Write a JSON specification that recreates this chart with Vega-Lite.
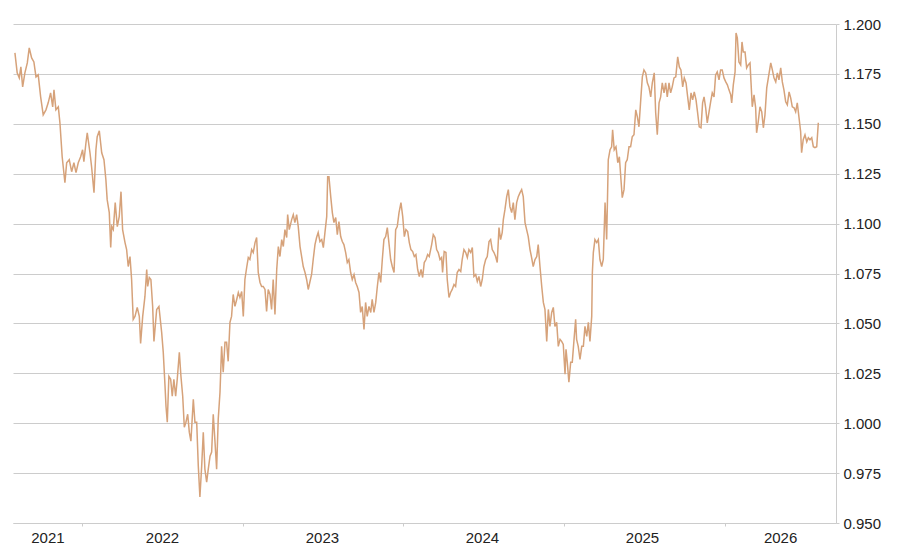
{
  "$schema": "https://vega.github.io/schema/vega-lite/v6.json",
  "width": 823,
  "height": 499,
  "autosize": "none",
  "padding": {"left": 13, "top": 24, "right": 64, "bottom": 34},
  "background": "white",
  "data": {
    "values": [
      {"t": 2021.583, "v": 1.1855}, {"t": 2021.597, "v": 1.1755}, {"t": 2021.610, "v": 1.173}, {"t": 2021.620, "v": 1.1785},
      {"t": 2021.631, "v": 1.1685}, {"t": 2021.645, "v": 1.1755}, {"t": 2021.660, "v": 1.1805}, {"t": 2021.672, "v": 1.188},
      {"t": 2021.687, "v": 1.183}, {"t": 2021.701, "v": 1.181}, {"t": 2021.714, "v": 1.1735}, {"t": 2021.728, "v": 1.1745},
      {"t": 2021.743, "v": 1.1635}, {"t": 2021.759, "v": 1.1545}, {"t": 2021.776, "v": 1.157}, {"t": 2021.790, "v": 1.1605},
      {"t": 2021.805, "v": 1.1655}, {"t": 2021.818, "v": 1.1585}, {"t": 2021.826, "v": 1.167}, {"t": 2021.838, "v": 1.157},
      {"t": 2021.853, "v": 1.1585}, {"t": 2021.863, "v": 1.1505}, {"t": 2021.877, "v": 1.1335}, {"t": 2021.894, "v": 1.1205},
      {"t": 2021.905, "v": 1.1305}, {"t": 2021.921, "v": 1.132}, {"t": 2021.936, "v": 1.126}, {"t": 2021.950, "v": 1.1305},
      {"t": 2021.963, "v": 1.1255}, {"t": 2021.977, "v": 1.1305}, {"t": 2021.992, "v": 1.1335}, {"t": 2022.004, "v": 1.137},
      {"t": 2022.012, "v": 1.131}, {"t": 2022.025, "v": 1.1405}, {"t": 2022.033, "v": 1.1455}, {"t": 2022.050, "v": 1.1355},
      {"t": 2022.060, "v": 1.1285}, {"t": 2022.075, "v": 1.1155}, {"t": 2022.087, "v": 1.137}, {"t": 2022.095, "v": 1.1435},
      {"t": 2022.108, "v": 1.1465}, {"t": 2022.123, "v": 1.1355}, {"t": 2022.137, "v": 1.132}, {"t": 2022.149, "v": 1.122},
      {"t": 2022.157, "v": 1.112}, {"t": 2022.170, "v": 1.1055}, {"t": 2022.179, "v": 1.088}, {"t": 2022.185, "v": 1.0985},
      {"t": 2022.195, "v": 1.097}, {"t": 2022.207, "v": 1.1105}, {"t": 2022.220, "v": 1.0985}, {"t": 2022.232, "v": 1.1035},
      {"t": 2022.243, "v": 1.116}, {"t": 2022.253, "v": 1.097}, {"t": 2022.268, "v": 1.0905}, {"t": 2022.278, "v": 1.087},
      {"t": 2022.288, "v": 1.0785}, {"t": 2022.299, "v": 1.0835}, {"t": 2022.309, "v": 1.072}, {"t": 2022.319, "v": 1.052},
      {"t": 2022.330, "v": 1.0535}, {"t": 2022.344, "v": 1.058}, {"t": 2022.357, "v": 1.0535}, {"t": 2022.365, "v": 1.04},
      {"t": 2022.378, "v": 1.0535}, {"t": 2022.392, "v": 1.0635}, {"t": 2022.403, "v": 1.077}, {"t": 2022.409, "v": 1.0685},
      {"t": 2022.419, "v": 1.073}, {"t": 2022.429, "v": 1.072}, {"t": 2022.440, "v": 1.0585}, {"t": 2022.448, "v": 1.041},
      {"t": 2022.465, "v": 1.057}, {"t": 2022.479, "v": 1.0585}, {"t": 2022.496, "v": 1.0455}, {"t": 2022.506, "v": 1.0355},
      {"t": 2022.517, "v": 1.0185}, {"t": 2022.523, "v": 1.0085}, {"t": 2022.531, "v": 1.0005}, {"t": 2022.541, "v": 1.0235},
      {"t": 2022.552, "v": 1.022}, {"t": 2022.562, "v": 1.0135}, {"t": 2022.572, "v": 1.022}, {"t": 2022.583, "v": 1.0135},
      {"t": 2022.593, "v": 1.022}, {"t": 2022.606, "v": 1.0355}, {"t": 2022.616, "v": 1.0235}, {"t": 2022.627, "v": 1.0135},
      {"t": 2022.637, "v": 0.998}, {"t": 2022.647, "v": 1.0005}, {"t": 2022.658, "v": 1.0045}, {"t": 2022.668, "v": 0.9955},
      {"t": 2022.678, "v": 0.991}, {"t": 2022.693, "v": 1.012}, {"t": 2022.703, "v": 1.0005}, {"t": 2022.714, "v": 1.0005},
      {"t": 2022.724, "v": 0.9785}, {"t": 2022.734, "v": 0.963}, {"t": 2022.745, "v": 0.9785}, {"t": 2022.755, "v": 0.9955},
      {"t": 2022.765, "v": 0.977}, {"t": 2022.776, "v": 0.9705}, {"t": 2022.786, "v": 0.977}, {"t": 2022.797, "v": 0.9835},
      {"t": 2022.807, "v": 0.9855}, {"t": 2022.817, "v": 1.0045}, {"t": 2022.828, "v": 0.9905}, {"t": 2022.838, "v": 0.977},
      {"t": 2022.848, "v": 1.002}, {"t": 2022.859, "v": 1.0155}, {"t": 2022.869, "v": 1.0385}, {"t": 2022.879, "v": 1.0255},
      {"t": 2022.890, "v": 1.0405}, {"t": 2022.900, "v": 1.0405}, {"t": 2022.910, "v": 1.031}, {"t": 2022.921, "v": 1.0505},
      {"t": 2022.931, "v": 1.0535}, {"t": 2022.941, "v": 1.0645}, {"t": 2022.952, "v": 1.0585}, {"t": 2022.963, "v": 1.062},
      {"t": 2022.973, "v": 1.0655}, {"t": 2022.983, "v": 1.063}, {"t": 2022.994, "v": 1.066}, {"t": 2023.004, "v": 1.0535},
      {"t": 2023.014, "v": 1.072}, {"t": 2023.025, "v": 1.078}, {"t": 2023.035, "v": 1.083}, {"t": 2023.045, "v": 1.082},
      {"t": 2023.056, "v": 1.087}, {"t": 2023.066, "v": 1.0855}, {"t": 2023.077, "v": 1.0905}, {"t": 2023.087, "v": 1.093},
      {"t": 2023.097, "v": 1.0755}, {"t": 2023.108, "v": 1.0705}, {"t": 2023.118, "v": 1.0685}, {"t": 2023.128, "v": 1.0685},
      {"t": 2023.139, "v": 1.067}, {"t": 2023.149, "v": 1.056}, {"t": 2023.159, "v": 1.067}, {"t": 2023.170, "v": 1.0645},
      {"t": 2023.180, "v": 1.057}, {"t": 2023.190, "v": 1.072}, {"t": 2023.201, "v": 1.0545}, {"t": 2023.212, "v": 1.077},
      {"t": 2023.222, "v": 1.0885}, {"t": 2023.232, "v": 1.0835}, {"t": 2023.243, "v": 1.092}, {"t": 2023.253, "v": 1.0885},
      {"t": 2023.263, "v": 1.097}, {"t": 2023.274, "v": 1.093}, {"t": 2023.280, "v": 1.1045}, {"t": 2023.290, "v": 1.097},
      {"t": 2023.305, "v": 1.102}, {"t": 2023.315, "v": 1.1045}, {"t": 2023.325, "v": 1.1005}, {"t": 2023.336, "v": 1.1045},
      {"t": 2023.346, "v": 1.0985}, {"t": 2023.357, "v": 1.0885}, {"t": 2023.367, "v": 1.0835}, {"t": 2023.377, "v": 1.0785},
      {"t": 2023.388, "v": 1.0755}, {"t": 2023.398, "v": 1.072}, {"t": 2023.408, "v": 1.067}, {"t": 2023.419, "v": 1.071},
      {"t": 2023.429, "v": 1.0745}, {"t": 2023.439, "v": 1.082}, {"t": 2023.450, "v": 1.0895}, {"t": 2023.460, "v": 1.093},
      {"t": 2023.470, "v": 1.0955}, {"t": 2023.481, "v": 1.091}, {"t": 2023.492, "v": 1.092}, {"t": 2023.502, "v": 1.088},
      {"t": 2023.512, "v": 1.0955}, {"t": 2023.523, "v": 1.1035}, {"t": 2023.529, "v": 1.1235}, {"t": 2023.537, "v": 1.1235},
      {"t": 2023.548, "v": 1.1135}, {"t": 2023.558, "v": 1.1055}, {"t": 2023.568, "v": 1.1005}, {"t": 2023.579, "v": 1.103},
      {"t": 2023.589, "v": 1.0945}, {"t": 2023.599, "v": 1.101}, {"t": 2023.610, "v": 1.0935}, {"t": 2023.620, "v": 1.091},
      {"t": 2023.630, "v": 1.0895}, {"t": 2023.641, "v": 1.0855}, {"t": 2023.651, "v": 1.0805}, {"t": 2023.661, "v": 1.082},
      {"t": 2023.672, "v": 1.0755}, {"t": 2023.682, "v": 1.072}, {"t": 2023.693, "v": 1.0745}, {"t": 2023.703, "v": 1.0705},
      {"t": 2023.713, "v": 1.0685}, {"t": 2023.724, "v": 1.0655}, {"t": 2023.734, "v": 1.0555}, {"t": 2023.744, "v": 1.0585},
      {"t": 2023.755, "v": 1.047}, {"t": 2023.765, "v": 1.0605}, {"t": 2023.775, "v": 1.0535}, {"t": 2023.786, "v": 1.0585},
      {"t": 2023.797, "v": 1.0555}, {"t": 2023.806, "v": 1.062}, {"t": 2023.817, "v": 1.0555}, {"t": 2023.828, "v": 1.0605},
      {"t": 2023.838, "v": 1.0685}, {"t": 2023.848, "v": 1.0755}, {"t": 2023.859, "v": 1.0705}, {"t": 2023.869, "v": 1.082},
      {"t": 2023.879, "v": 1.092}, {"t": 2023.890, "v": 1.0935}, {"t": 2023.900, "v": 1.098}, {"t": 2023.910, "v": 1.0905},
      {"t": 2023.921, "v": 1.082}, {"t": 2023.931, "v": 1.0785}, {"t": 2023.942, "v": 1.0755}, {"t": 2023.952, "v": 1.097},
      {"t": 2023.962, "v": 1.0985}, {"t": 2023.973, "v": 1.1055}, {"t": 2023.985, "v": 1.1105}, {"t": 2023.996, "v": 1.1035},
      {"t": 2024.006, "v": 1.0935}, {"t": 2024.016, "v": 1.097}, {"t": 2024.027, "v": 1.096}, {"t": 2024.037, "v": 1.0905},
      {"t": 2024.047, "v": 1.087}, {"t": 2024.058, "v": 1.086}, {"t": 2024.068, "v": 1.0835}, {"t": 2024.078, "v": 1.0845},
      {"t": 2024.089, "v": 1.077}, {"t": 2024.099, "v": 1.0735}, {"t": 2024.110, "v": 1.077}, {"t": 2024.120, "v": 1.073},
      {"t": 2024.130, "v": 1.0805}, {"t": 2024.141, "v": 1.082}, {"t": 2024.151, "v": 1.0845}, {"t": 2024.161, "v": 1.0835},
      {"t": 2024.176, "v": 1.0895}, {"t": 2024.186, "v": 1.0945}, {"t": 2024.197, "v": 1.093}, {"t": 2024.207, "v": 1.087},
      {"t": 2024.217, "v": 1.0855}, {"t": 2024.228, "v": 1.082}, {"t": 2024.238, "v": 1.083}, {"t": 2024.244, "v": 1.0755},
      {"t": 2024.254, "v": 1.086}, {"t": 2024.265, "v": 1.0855}, {"t": 2024.273, "v": 1.072}, {"t": 2024.284, "v": 1.063},
      {"t": 2024.294, "v": 1.0655}, {"t": 2024.304, "v": 1.067}, {"t": 2024.315, "v": 1.0695}, {"t": 2024.325, "v": 1.0685},
      {"t": 2024.335, "v": 1.0755}, {"t": 2024.346, "v": 1.077}, {"t": 2024.357, "v": 1.076}, {"t": 2024.366, "v": 1.082},
      {"t": 2024.377, "v": 1.087}, {"t": 2024.388, "v": 1.0855}, {"t": 2024.398, "v": 1.083}, {"t": 2024.408, "v": 1.087},
      {"t": 2024.419, "v": 1.0855}, {"t": 2024.429, "v": 1.088}, {"t": 2024.439, "v": 1.0735}, {"t": 2024.450, "v": 1.0745},
      {"t": 2024.460, "v": 1.071}, {"t": 2024.470, "v": 1.0735}, {"t": 2024.481, "v": 1.0685}, {"t": 2024.491, "v": 1.072},
      {"t": 2024.501, "v": 1.0785}, {"t": 2024.512, "v": 1.082}, {"t": 2024.522, "v": 1.0835}, {"t": 2024.533, "v": 1.091},
      {"t": 2024.543, "v": 1.092}, {"t": 2024.553, "v": 1.087}, {"t": 2024.564, "v": 1.0855}, {"t": 2024.574, "v": 1.0835},
      {"t": 2024.584, "v": 1.0805}, {"t": 2024.595, "v": 1.098}, {"t": 2024.605, "v": 1.092}, {"t": 2024.615, "v": 1.0955},
      {"t": 2024.622, "v": 1.102}, {"t": 2024.632, "v": 1.107}, {"t": 2024.643, "v": 1.1135}, {"t": 2024.653, "v": 1.117},
      {"t": 2024.663, "v": 1.1085}, {"t": 2024.674, "v": 1.1055}, {"t": 2024.684, "v": 1.1105}, {"t": 2024.694, "v": 1.102},
      {"t": 2024.705, "v": 1.1105}, {"t": 2024.715, "v": 1.1135}, {"t": 2024.726, "v": 1.1155}, {"t": 2024.736, "v": 1.117},
      {"t": 2024.746, "v": 1.1135}, {"t": 2024.757, "v": 1.1005}, {"t": 2024.767, "v": 1.097}, {"t": 2024.777, "v": 1.0935},
      {"t": 2024.788, "v": 1.087}, {"t": 2024.798, "v": 1.083}, {"t": 2024.808, "v": 1.0785}, {"t": 2024.819, "v": 1.082},
      {"t": 2024.830, "v": 1.0835}, {"t": 2024.839, "v": 1.0895}, {"t": 2024.850, "v": 1.0785}, {"t": 2024.861, "v": 1.0685},
      {"t": 2024.871, "v": 1.0605}, {"t": 2024.881, "v": 1.057}, {"t": 2024.892, "v": 1.041}, {"t": 2024.902, "v": 1.057},
      {"t": 2024.912, "v": 1.0485}, {"t": 2024.923, "v": 1.0555}, {"t": 2024.933, "v": 1.058}, {"t": 2024.943, "v": 1.0485},
      {"t": 2024.954, "v": 1.0505}, {"t": 2024.964, "v": 1.0385}, {"t": 2024.975, "v": 1.042}, {"t": 2024.985, "v": 1.041},
      {"t": 2024.995, "v": 1.0395}, {"t": 2025.006, "v": 1.0245}, {"t": 2025.012, "v": 1.037}, {"t": 2025.020, "v": 1.0305},
      {"t": 2025.030, "v": 1.0205}, {"t": 2025.041, "v": 1.0305}, {"t": 2025.051, "v": 1.0305}, {"t": 2025.062, "v": 1.042},
      {"t": 2025.072, "v": 1.052}, {"t": 2025.078, "v": 1.042}, {"t": 2025.088, "v": 1.0385}, {"t": 2025.099, "v": 1.032},
      {"t": 2025.110, "v": 1.0385}, {"t": 2025.120, "v": 1.0385}, {"t": 2025.130, "v": 1.0485}, {"t": 2025.141, "v": 1.0435},
      {"t": 2025.151, "v": 1.0505}, {"t": 2025.161, "v": 1.041}, {"t": 2025.172, "v": 1.0535}, {"t": 2025.176, "v": 1.0755},
      {"t": 2025.182, "v": 1.0855}, {"t": 2025.192, "v": 1.092}, {"t": 2025.203, "v": 1.0905}, {"t": 2025.213, "v": 1.092},
      {"t": 2025.223, "v": 1.082}, {"t": 2025.234, "v": 1.0785}, {"t": 2025.244, "v": 1.082}, {"t": 2025.255, "v": 1.1105},
      {"t": 2025.265, "v": 1.092}, {"t": 2025.275, "v": 1.132}, {"t": 2025.286, "v": 1.137}, {"t": 2025.296, "v": 1.1385},
      {"t": 2025.302, "v": 1.147}, {"t": 2025.312, "v": 1.137}, {"t": 2025.323, "v": 1.1385}, {"t": 2025.334, "v": 1.1305},
      {"t": 2025.344, "v": 1.1335}, {"t": 2025.354, "v": 1.122}, {"t": 2025.362, "v": 1.113}, {"t": 2025.373, "v": 1.117},
      {"t": 2025.383, "v": 1.1305}, {"t": 2025.393, "v": 1.132}, {"t": 2025.404, "v": 1.1385}, {"t": 2025.414, "v": 1.1385},
      {"t": 2025.424, "v": 1.1435}, {"t": 2025.435, "v": 1.1445}, {"t": 2025.446, "v": 1.157}, {"t": 2025.456, "v": 1.1535},
      {"t": 2025.466, "v": 1.1485}, {"t": 2025.477, "v": 1.162}, {"t": 2025.487, "v": 1.1735}, {"t": 2025.497, "v": 1.177},
      {"t": 2025.508, "v": 1.1755}, {"t": 2025.518, "v": 1.1705}, {"t": 2025.528, "v": 1.1685}, {"t": 2025.539, "v": 1.1635},
      {"t": 2025.549, "v": 1.1705}, {"t": 2025.561, "v": 1.1755}, {"t": 2025.570, "v": 1.1555}, {"t": 2025.580, "v": 1.1445},
      {"t": 2025.591, "v": 1.1605}, {"t": 2025.601, "v": 1.1635}, {"t": 2025.611, "v": 1.1705}, {"t": 2025.622, "v": 1.1655},
      {"t": 2025.632, "v": 1.1705}, {"t": 2025.642, "v": 1.1635}, {"t": 2025.653, "v": 1.1705}, {"t": 2025.663, "v": 1.1655},
      {"t": 2025.673, "v": 1.1685}, {"t": 2025.684, "v": 1.173}, {"t": 2025.695, "v": 1.1735}, {"t": 2025.707, "v": 1.1835},
      {"t": 2025.717, "v": 1.1785}, {"t": 2025.727, "v": 1.177}, {"t": 2025.738, "v": 1.1685}, {"t": 2025.748, "v": 1.173},
      {"t": 2025.759, "v": 1.1705}, {"t": 2025.769, "v": 1.1635}, {"t": 2025.779, "v": 1.157}, {"t": 2025.790, "v": 1.1655},
      {"t": 2025.800, "v": 1.162}, {"t": 2025.810, "v": 1.166}, {"t": 2025.821, "v": 1.162}, {"t": 2025.831, "v": 1.1555},
      {"t": 2025.841, "v": 1.1485}, {"t": 2025.852, "v": 1.148}, {"t": 2025.862, "v": 1.1605}, {"t": 2025.871, "v": 1.1635},
      {"t": 2025.881, "v": 1.158}, {"t": 2025.891, "v": 1.1505}, {"t": 2025.902, "v": 1.156}, {"t": 2025.912, "v": 1.161},
      {"t": 2025.922, "v": 1.1655}, {"t": 2025.933, "v": 1.1635}, {"t": 2025.943, "v": 1.1745}, {"t": 2025.953, "v": 1.176},
      {"t": 2025.964, "v": 1.172}, {"t": 2025.974, "v": 1.177}, {"t": 2025.984, "v": 1.177}, {"t": 2025.995, "v": 1.173},
      {"t": 2026.006, "v": 1.171}, {"t": 2026.016, "v": 1.1695}, {"t": 2026.026, "v": 1.167}, {"t": 2026.037, "v": 1.1645},
      {"t": 2026.043, "v": 1.1605}, {"t": 2026.053, "v": 1.1695}, {"t": 2026.064, "v": 1.176}, {"t": 2026.070, "v": 1.1955},
      {"t": 2026.078, "v": 1.193}, {"t": 2026.088, "v": 1.181}, {"t": 2026.099, "v": 1.1795}, {"t": 2026.107, "v": 1.191},
      {"t": 2026.115, "v": 1.186}, {"t": 2026.126, "v": 1.186}, {"t": 2026.136, "v": 1.178}, {"t": 2026.146, "v": 1.1795},
      {"t": 2026.157, "v": 1.1805}, {"t": 2026.163, "v": 1.171}, {"t": 2026.171, "v": 1.1585}, {"t": 2026.182, "v": 1.1645},
      {"t": 2026.192, "v": 1.158}, {"t": 2026.198, "v": 1.1455}, {"t": 2026.208, "v": 1.151}, {"t": 2026.219, "v": 1.1585},
      {"t": 2026.230, "v": 1.156}, {"t": 2026.240, "v": 1.148}, {"t": 2026.250, "v": 1.1545}, {"t": 2026.261, "v": 1.168},
      {"t": 2026.271, "v": 1.173}, {"t": 2026.286, "v": 1.1805}, {"t": 2026.296, "v": 1.177}, {"t": 2026.306, "v": 1.173},
      {"t": 2026.317, "v": 1.171}, {"t": 2026.327, "v": 1.1755}, {"t": 2026.337, "v": 1.172}, {"t": 2026.348, "v": 1.178},
      {"t": 2026.358, "v": 1.171}, {"t": 2026.368, "v": 1.167}, {"t": 2026.379, "v": 1.161}, {"t": 2026.389, "v": 1.1595},
      {"t": 2026.400, "v": 1.166}, {"t": 2026.410, "v": 1.163}, {"t": 2026.420, "v": 1.1585}, {"t": 2026.431, "v": 1.158},
      {"t": 2026.441, "v": 1.156}, {"t": 2026.451, "v": 1.1605}, {"t": 2026.462, "v": 1.153}, {"t": 2026.472, "v": 1.146},
      {"t": 2026.478, "v": 1.1355}, {"t": 2026.488, "v": 1.142}, {"t": 2026.499, "v": 1.1445}, {"t": 2026.510, "v": 1.141},
      {"t": 2026.520, "v": 1.143}, {"t": 2026.530, "v": 1.142}, {"t": 2026.541, "v": 1.143}, {"t": 2026.551, "v": 1.1385},
      {"t": 2026.561, "v": 1.138}, {"t": 2026.572, "v": 1.1385}, {"t": 2026.582, "v": 1.1505}
    ]
  },
  "mark": {"type": "line", "color": "#D6A27A", "strokeWidth": 1.5, "clip": true},
  "encoding": {
    "x": {
      "field": "t",
      "type": "quantitative",
      "title": null,
      "scale": {"domain": [2021.571, 2026.692], "nice": false, "zero": false},
      "axis": {
        "values": [2021.785, 2022, 2022.498, 2023, 2023.493, 2024, 2024.489, 2025, 2025.485, 2026, 2026.344],
        "labelExpr": "datum.value % 1 == 0 ? '' : format(floor(datum.value), 'd')",
        "tickOpacity": {"condition": {"test": "datum.value % 1 == 0", "value": 1}, "value": 0},
        "grid": false,
        "domainColor": "#cccccc",
        "tickColor": "#cccccc",
        "tickSize": 3,
        "labelPadding": 4,
        "labelOverlap": false,
        "labelFlush": false,
        "labelAlign": "center"
      }
    },
    "y": {
      "field": "v",
      "type": "quantitative",
      "title": null,
      "scale": {"domain": [0.95, 1.2], "nice": false, "zero": false},
      "axis": {
        "orient": "right",
        "values": [0.95, 0.975, 1.0, 1.025, 1.05, 1.075, 1.1, 1.125, 1.15, 1.175, 1.2],
        "format": ".3f",
        "grid": true,
        "gridColor": "#cccccc",
        "domainColor": "#cccccc",
        "tickColor": "#cccccc",
        "tickSize": 3,
        "labelPadding": 4
      }
    }
  },
  "config": {
    "view": {"stroke": null},
    "axis": {
      "labelFont": "Liberation Sans",
      "labelFontSize": 15,
      "labelColor": "#222222",
      "domainWidth": 1,
      "gridWidth": 1
    }
  }
}
